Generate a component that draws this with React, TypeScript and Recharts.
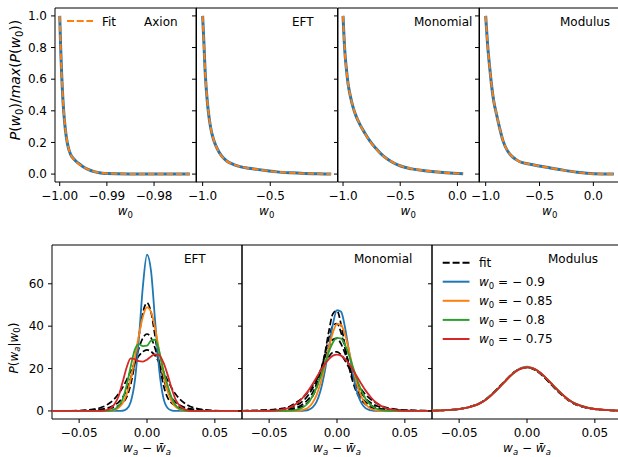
import React from "react";
import { LineChart, Line, XAxis, YAxis, ReferenceArea } from "recharts";

const FONT = "DejaVu Sans";
const BLUE = "#1f77b4";
const ORANGE = "#ff7f0e";
const GREEN = "#2ca02c";
const RED = "#d62728";

// ---- top row: P(w0)/max(P(w0)) ----
const axionW0 = [-1.0, -0.9998, -0.9996, -0.9993, -0.999, -0.9986, -0.9982, -0.9977, -0.997, -0.9962, -0.9952, -0.994, -0.9925, -0.991, -0.99, -0.985, -0.98, -0.9724];
const axionP = [1.0, 0.8, 0.64, 0.46, 0.34, 0.235, 0.17, 0.125, 0.095, 0.072, 0.05, 0.03, 0.014, 0.006, 0.003, 0.0008, 0.0002, 0];
const axionFit = [1.0, 0.79, 0.635, 0.465, 0.345, 0.24, 0.172, 0.124, 0.093, 0.07, 0.049, 0.03, 0.015, 0.007, 0.004, 0.001, 0.0003, 0];

const eftW0 = [-1.0, -0.99, -0.983, -0.975, -0.966, -0.955, -0.941, -0.92, -0.896, -0.86, -0.822, -0.77, -0.723, -0.66, -0.6, -0.52, -0.45, -0.35, -0.25, -0.15, -0.05];
const eftP = [1.0, 0.82, 0.677, 0.56, 0.465, 0.375, 0.295, 0.22, 0.168, 0.115, 0.083, 0.06, 0.047, 0.037, 0.03, 0.021, 0.014, 0.008, 0.004, 0.002, 0.0];
const eftFitTop = [1.0, 0.81, 0.675, 0.562, 0.468, 0.378, 0.297, 0.221, 0.167, 0.114, 0.082, 0.06, 0.047, 0.037, 0.03, 0.021, 0.014, 0.008, 0.004, 0.002, 0.0];

const monoW0 = [-1.0, -0.985, -0.97, -0.956, -0.935, -0.912, -0.885, -0.854, -0.81, -0.766, -0.71, -0.649, -0.58, -0.497, -0.4, -0.3, -0.2, -0.1, 0.0, 0.05];
const monoP = [1.0, 0.783, 0.66, 0.571, 0.49, 0.422, 0.365, 0.316, 0.26, 0.21, 0.16, 0.115, 0.08, 0.051, 0.033, 0.022, 0.015, 0.009, 0.004, 0.002];
const monoFitTop = [1.0, 0.78, 0.658, 0.572, 0.492, 0.424, 0.366, 0.316, 0.259, 0.208, 0.158, 0.114, 0.08, 0.052, 0.034, 0.023, 0.015, 0.009, 0.004, 0.002];

const modW0 = [-1.0, -0.978, -0.962, -0.947, -0.925, -0.9, -0.87, -0.839, -0.8, -0.76, -0.72, -0.683, -0.6, -0.503, -0.4, -0.28, -0.15, 0.0, 0.1, 0.19];
const modP = [1.0, 0.783, 0.67, 0.571, 0.46, 0.38, 0.29, 0.21, 0.15, 0.115, 0.093, 0.078, 0.064, 0.051, 0.039, 0.025, 0.012, 0.002, 0.0005, 0.0];
const modFitTop = [1.0, 0.78, 0.668, 0.572, 0.462, 0.381, 0.29, 0.211, 0.151, 0.116, 0.093, 0.078, 0.064, 0.051, 0.039, 0.025, 0.012, 0.002, 0.0005, 0.0];

// ---- bottom row: P(wa|w0) vs wa - mean ----
const waGrid = [-0.07, -0.06, -0.05, -0.045, -0.04, -0.035, -0.03, -0.027, -0.024, -0.021, -0.018, -0.015, -0.012, -0.009, -0.006, -0.003, 0, 0.003, 0.006, 0.009, 0.012, 0.015, 0.018, 0.021, 0.024, 0.027, 0.03, 0.035, 0.04, 0.045, 0.05, 0.06, 0.07];

const eftBlue = [0, 0, 0, 0, 0, 0, 0, 0, 0, 0, 0.1, 0.9, 4.2, 13.9, 33.9, 59.0, 73.7, 65.9, 42.3, 19.4, 6.4, 1.5, 0.25, 0, 0, 0, 0, 0, 0, 0, 0, 0, 0];
const eftOrange = [0, 0, 0, 0, 0, 0, 0.04, 0.15, 0.5, 1.5, 3.6, 7.9, 14.9, 24.7, 35.6, 44.6, 48.9, 46.7, 38.9, 28.2, 17.8, 9.8, 4.8, 2.0, 0.7, 0.2, 0.06, 0, 0, 0, 0, 0, 0];
const eftGreen = [0, 0, 0, 0, 0, 0, 0, 0.15, 0.8, 2.2, 5.5, 12, 21, 28.8, 31.5, 30.6, 30.8, 33.2, 33.6, 28.2, 19.5, 12.5, 6.5, 2.8, 1.0, 0.3, 0, 0, 0, 0, 0, 0, 0];
const eftRed = [0, 0, 0, 0, 0, 0, 0.4, 1.2, 3.2, 6.8, 13.5, 20.5, 24.8, 24.4, 23.5, 23.3, 24.2, 25.7, 26.7, 26.3, 23, 17.5, 11, 5.5, 2.5, 1.0, 0.3, 0, 0, 0, 0, 0, 0];
const eftFitA = [0, 0, 0.04, 0.1, 0.22, 0.45, 0.8, 1.2, 1.7, 2.5, 3.8, 6.5, 12.5, 22.5, 35, 46.5, 51, 46.5, 35, 22.5, 12.5, 6.5, 3.8, 2.5, 1.7, 1.2, 0.8, 0.45, 0.22, 0.1, 0.04, 0, 0];
const eftFitB = [0, 0.01, 0.08, 0.17, 0.35, 0.7, 1.3, 1.9, 2.8, 4.1, 6.3, 10, 15.5, 22.5, 29.5, 34.5, 36.3, 34.5, 29.5, 22.5, 15.5, 10, 6.3, 4.1, 2.8, 1.9, 1.3, 0.7, 0.35, 0.17, 0.08, 0.01, 0];
const eftFitC = [0, 0.03, 0.15, 0.35, 0.7, 1.4, 2.7, 4.0, 5.7, 8.0, 11.0, 14.7, 18.8, 22.7, 26.0, 28.0, 28.8, 28.0, 26.0, 22.7, 18.8, 14.7, 11.0, 8.0, 5.7, 4.0, 2.7, 1.4, 0.7, 0.35, 0.15, 0.03, 0];

const monoBlue = [0, 0, 0, 0, 0, 0, 0, 0.03, 0.15, 0.5, 1.7, 4.4, 9.9, 18.6, 30.0, 41.0, 47.6, 46.8, 39.1, 27.7, 16.6, 8.5, 3.7, 1.3, 0.4, 0.1, 0, 0, 0, 0, 0, 0, 0];
const monoOrange = [0, 0, 0, 0, 0, 0, 0.07, 0.25, 0.7, 1.7, 3.9, 7.6, 13.5, 21.2, 29.7, 37.0, 41.1, 40.6, 35.8, 28.0, 19.5, 12.1, 6.7, 3.3, 1.45, 0.57, 0.2, 0.03, 0, 0, 0, 0, 0];
const monoGreen = [0, 0, 0, 0, 0.02, 0.11, 0.49, 1.07, 2.15, 4.0, 7.0, 11.1, 16.4, 22.2, 27.9, 32.3, 34.5, 34.1, 31.1, 26.1, 20.2, 14.5, 9.6, 5.85, 3.3, 1.7, 0.8, 0.2, 0.04, 0, 0, 0, 0];
const monoRed = [0, 0, 0.09, 0.26, 0.7, 1.6, 3.4, 5.0, 7.2, 9.7, 12.7, 15.9, 19.1, 22.1, 24.5, 26.1, 26.6, 26.1, 24.5, 22.1, 19.1, 15.9, 12.7, 9.7, 7.2, 5.0, 3.4, 1.6, 0.7, 0.26, 0.09, 0, 0];
const monoFitA = [0.03, 0.05, 0.13, 0.2, 0.35, 0.62, 1.17, 1.77, 2.72, 4.28, 6.84, 11.1, 17.6, 26.8, 37.6, 45.9, 47.3, 40.8, 30.4, 20.4, 13.0, 8.06, 5.0, 3.17, 2.03, 1.34, 0.9, 0.49, 0.28, 0.17, 0.1, 0.05, 0.02];
const monoFitB = [0.04, 0.1, 0.22, 0.32, 0.55, 0.98, 1.7, 2.5, 3.8, 5.6, 8.5, 12.9, 18.9, 26.6, 34.4, 40.3, 41.2, 36.9, 29.3, 21.4, 14.7, 9.8, 6.5, 4.3, 2.9, 1.95, 1.33, 0.76, 0.44, 0.27, 0.18, 0.07, 0.04];
const monoFitC = [0.09, 0.18, 0.38, 0.6, 0.98, 1.57, 2.7, 3.75, 5.3, 7.6, 10.7, 14.6, 19.5, 25.0, 30.3, 33.7, 34.2, 31.6, 27.0, 21.3, 16.1, 11.8, 8.4, 5.95, 4.2, 3.0, 2.2, 1.3, 0.8, 0.5, 0.33, 0.16, 0.08];
const monoFitD = [0.08, 0.18, 0.45, 0.75, 1.2, 2.1, 4.1, 5.3, 7.0, 9.2, 12.0, 15.3, 18.8, 22.4, 25.6, 27.6, 27.9, 26.5, 23.7, 20.2, 16.4, 13.1, 10.1, 7.7, 5.9, 4.5, 3.4, 1.8, 1.1, 0.65, 0.4, 0.15, 0.06];

const modBlue = [0.12, 0.35, 0.9, 1.45, 2.3, 3.5, 5.5, 7.1, 8.9, 10.8, 12.8, 14.8, 16.8, 18.45, 19.75, 20.55, 20.85, 20.5, 19.7, 18.4, 16.8, 14.85, 12.8, 10.8, 8.9, 7.1, 5.5, 3.5, 2.3, 1.45, 0.9, 0.35, 0.12];
const modOrange = [0.12, 0.35, 0.9, 1.45, 2.3, 3.5, 5.5, 7.1, 8.9, 10.8, 12.8, 14.8, 16.75, 18.4, 19.65, 20.4, 20.7, 20.4, 19.6, 18.35, 16.75, 14.85, 12.85, 10.85, 8.95, 7.15, 5.55, 3.55, 2.35, 1.5, 0.92, 0.36, 0.12];
const modGreen = [0.12, 0.34, 0.88, 1.42, 2.25, 3.45, 5.45, 7.05, 8.85, 10.75, 12.75, 14.75, 16.7, 18.3, 19.55, 20.3, 20.6, 20.35, 19.6, 18.4, 16.8, 14.95, 13.0, 11.0, 9.1, 7.3, 5.7, 3.7, 2.5, 1.6, 1.0, 0.4, 0.14];
const modRed = [0.12, 0.35, 0.88, 1.4, 2.25, 3.45, 5.4, 7.0, 8.8, 10.7, 12.7, 14.7, 16.6, 18.2, 19.5, 20.25, 20.55, 20.35, 19.65, 18.4, 16.8, 14.9, 12.9, 10.9, 9.0, 7.2, 5.6, 3.55, 2.35, 1.5, 0.92, 0.36, 0.12];
const modFitA = [0.1, 0.32, 0.88, 1.45, 2.35, 3.6, 5.65, 7.3, 9.1, 11.0, 13.0, 15.0, 16.9, 18.5, 19.7, 20.35, 20.55, 20.15, 19.3, 18.0, 16.3, 14.4, 12.4, 10.4, 8.5, 6.8, 5.25, 3.3, 2.15, 1.35, 0.85, 0.32, 0.1];
const modFitB = [0.1, 0.33, 0.9, 1.47, 2.38, 3.62, 5.7, 7.35, 9.15, 11.05, 13.05, 15.05, 16.95, 18.55, 19.75, 20.4, 20.6, 20.2, 19.35, 18.05, 16.35, 14.45, 12.45, 10.45, 8.55, 6.85, 5.3, 3.32, 2.17, 1.37, 0.86, 0.33, 0.1];

const topYTicks = [0, 0.2, 0.4, 0.6, 0.8, 1.0];
const botXTicks = [-0.05, 0, 0.05];
const botYTicks = [0, 20, 40, 60];
const legendW0 = ["−0.9", "−0.85", "−0.8", "−0.75"];

const rows = (xs: number[], cols: Record<string, number[]>) =>
  xs.map((x, i) => {
    const r: Record<string, number> = { x };
    for (const k in cols) r[k] = cols[k][i];
    return r;
  });

const fmt = (d: number) => (v: number) => v.toFixed(d).replace("-", "−");
const blank = () => "";

type S = { key: string; color: string; width: number; dash?: string };

const PAD_L = 50;
const PAD_T = 4;
const PAD_R = 4;
const PAD_B = 28;
const DASH = "6.5 2.8";

function Panel(props: {
  left: number;
  top: number;
  width: number;
  height: number;
  data: Record<string, number>[];
  xDomain: [number, number];
  yDomain: [number, number];
  xTicks: number[];
  yTicks: number[];
  xFmt: (v: number) => string;
  yFmt: (v: number) => string;
  series: S[];
}) {
  const { left, top, width, height, data, xDomain, yDomain, xTicks, yTicks, xFmt, yFmt, series } = props;
  const tick = { fill: "#000", fontSize: 12, fontFamily: FONT };
  return (
    <div style={{ position: "absolute", left: left - PAD_L, top: top - PAD_T }}>
      <LineChart
        width={width + PAD_L + PAD_R}
        height={height + PAD_T + PAD_B}
        data={data}
        margin={{ top: PAD_T, right: PAD_R, bottom: 0, left: 0 }}
      >
        <XAxis
          type="number"
          dataKey="x"
          domain={xDomain}
          ticks={xTicks}
          allowDataOverflow
          interval={0}
          height={PAD_B}
          axisLine={false}
          stroke="#000"
          tickLine={{ stroke: "#000" }}
          tickSize={4}
          tickMargin={5}
          tick={tick}
          tickFormatter={xFmt}
        />
        <YAxis
          type="number"
          domain={yDomain}
          ticks={yTicks}
          allowDataOverflow
          interval={0}
          width={PAD_L}
          axisLine={false}
          stroke="#000"
          tickLine={{ stroke: "#000" }}
          tickSize={4}
          tickMargin={4}
          tick={tick}
          tickFormatter={yFmt}
        />
        <ReferenceArea
          x1={xDomain[0]}
          x2={xDomain[1]}
          y1={yDomain[0]}
          y2={yDomain[1]}
          fill="none"
          fillOpacity={0}
          stroke="#000"
          strokeWidth={1}
        />
        {series.map((s) => (
          <Line
            key={s.key}
            type="monotone"
            dataKey={s.key}
            stroke={s.color}
            strokeWidth={s.width}
            strokeDasharray={s.dash}
            dot={false}
            activeDot={false}
            isAnimationActive={false}
          />
        ))}
      </LineChart>
    </div>
  );
}

const topSeries: S[] = [
  { key: "p", color: BLUE, width: 3 },
  { key: "f", color: ORANGE, width: 2, dash: DASH },
];

const botSeries = (fits: string[]): S[] => [
  ...fits.map((k) => ({ key: k, color: "#000", width: 1.7, dash: DASH })),
  { key: "b", color: BLUE, width: 1.8 },
  { key: "o", color: ORANGE, width: 1.8 },
  { key: "g", color: GREEN, width: 1.8 },
  { key: "r", color: RED, width: 1.8 },
];

const TOP_Y = 7.5;
const TOP_H = 174;
const TOP_W = 141.5;
const BOT_Y = 245;
const BOT_H = 174;
const BOT_W = 190;

const Sub = ({ t, size, shift, italic }: { t: string; size: number; shift: number; italic?: boolean }) => (
  <tspan fontSize={size} dy={shift} fontStyle={italic ? "italic" : "normal"}>
    {t}
  </tspan>
);

export default function App() {
  return (
    <div
      style={{
        position: "absolute",
        left: 0,
        top: 0,
        width: 618,
        height: 457,
        overflow: "hidden",
        background: "#fff",
        fontFamily: FONT,
      }}
    >
      <Panel
        left={54.5}
        top={TOP_Y}
        width={TOP_W}
        height={TOP_H}
        data={rows(axionW0, { p: axionP, f: axionFit })}
        xDomain={[-1.001, -0.971]}
        yDomain={[-0.05, 1.05]}
        xTicks={[-1.0, -0.99, -0.98]}
        yTicks={topYTicks}
        xFmt={fmt(2)}
        yFmt={fmt(1)}
        series={topSeries}
      />
      <Panel
        left={196}
        top={TOP_Y}
        width={TOP_W}
        height={TOP_H}
        data={rows(eftW0, { p: eftP, f: eftFitTop })}
        xDomain={[-1.049, -0.003]}
        yDomain={[-0.05, 1.05]}
        xTicks={[-1.0, -0.5]}
        yTicks={topYTicks}
        xFmt={fmt(1)}
        yFmt={blank}
        series={topSeries}
      />
      <Panel
        left={337.5}
        top={TOP_Y}
        width={TOP_W}
        height={TOP_H}
        data={rows(monoW0, { p: monoP, f: monoFitTop })}
        xDomain={[-1.044, 0.193]}
        yDomain={[-0.05, 1.05]}
        xTicks={[-1.0, -0.5, 0.0]}
        yTicks={topYTicks}
        xFmt={fmt(1)}
        yFmt={blank}
        series={topSeries}
      />
      <Panel
        left={479}
        top={TOP_Y}
        width={TOP_W}
        height={TOP_H}
        data={rows(modW0, { p: modP, f: modFitTop })}
        xDomain={[-1.062, 0.252]}
        yDomain={[-0.05, 1.05]}
        xTicks={[-1.0, -0.5, 0.0]}
        yTicks={topYTicks}
        xFmt={fmt(1)}
        yFmt={blank}
        series={topSeries}
      />

      <Panel
        left={52}
        top={BOT_Y}
        width={BOT_W}
        height={BOT_H}
        data={rows(waGrid, { fa: eftFitA, fb: eftFitB, fc: eftFitC, b: eftBlue, o: eftOrange, g: eftGreen, r: eftRed })}
        xDomain={[-0.07, 0.07]}
        yDomain={[-3.8, 78.3]}
        xTicks={botXTicks}
        yTicks={botYTicks}
        xFmt={fmt(2)}
        yFmt={fmt(0)}
        series={botSeries(["fa", "fb", "fc"])}
      />
      <Panel
        left={242}
        top={BOT_Y}
        width={BOT_W}
        height={BOT_H}
        data={rows(waGrid, {
          fa: monoFitA,
          fb: monoFitB,
          fc: monoFitC,
          fd: monoFitD,
          b: monoBlue,
          o: monoOrange,
          g: monoGreen,
          r: monoRed,
        })}
        xDomain={[-0.07, 0.07]}
        yDomain={[-3.8, 78.3]}
        xTicks={botXTicks}
        yTicks={botYTicks}
        xFmt={fmt(2)}
        yFmt={blank}
        series={botSeries(["fa", "fb", "fc", "fd"])}
      />
      <Panel
        left={432}
        top={BOT_Y}
        width={BOT_W}
        height={BOT_H}
        data={rows(waGrid, { fa: modFitA, fb: modFitB, b: modBlue, o: modOrange, g: modGreen, r: modRed })}
        xDomain={[-0.07, 0.07]}
        yDomain={[-3.8, 78.3]}
        xTicks={botXTicks}
        yTicks={botYTicks}
        xFmt={fmt(2)}
        yFmt={blank}
        series={botSeries(["fa", "fb"])}
      />

      <svg
        width={618}
        height={457}
        style={{ position: "absolute", left: 0, top: 0, pointerEvents: "none" }}
        fontFamily={FONT}
        fontSize={12}
        fill="#000"
      >
        {/* y labels */}
        <text transform="translate(19.5,80) rotate(-90)" textAnchor="middle" fontSize={14}>
          <tspan fontStyle="italic">P</tspan>
          <tspan>(</tspan>
          <tspan fontStyle="italic">w</tspan>
          <Sub t="0" size={10} shift={3} />
          <tspan dy={-3}>)/</tspan>
          <tspan fontStyle="italic">max</tspan>
          <tspan>(</tspan>
          <tspan fontStyle="italic">P</tspan>
          <tspan>(</tspan>
          <tspan fontStyle="italic">w</tspan>
          <Sub t="0" size={10} shift={3} />
          <tspan dy={-3}>))</tspan>
        </text>
        <text transform="translate(17.5,348) rotate(-90)" textAnchor="middle" fontSize={12}>
          <tspan fontStyle="italic">P</tspan>
          <tspan>(</tspan>
          <tspan fontStyle="italic">w</tspan>
          <Sub t="a" size={8.5} shift={2.5} italic />
          <tspan dy={-2.5}>|</tspan>
          <tspan fontStyle="italic">w</tspan>
          <Sub t="0" size={8.5} shift={2.5} />
          <tspan dy={-2.5}>)</tspan>
        </text>

        {/* x labels */}
        {[125.3, 266.7, 408.2, 549.7].map((cx) => (
          <text key={cx} x={cx} y={215} textAnchor="middle">
            <tspan fontStyle="italic">w</tspan>
            <Sub t="0" size={8.5} shift={2.5} />
          </text>
        ))}
        {[147, 337, 527].map((cx) => (
          <text key={cx} x={cx} y={452} textAnchor="middle">
            <tspan fontStyle="italic">w</tspan>
            <Sub t="a" size={8.5} shift={2.5} italic />
            <tspan dy={-2.5}>{" − "}</tspan>
            <tspan fontStyle="italic">{"w\u0304"}</tspan>
            <Sub t="a" size={8.5} shift={2.5} italic />
          </text>
        ))}

        {/* panel titles */}
        <text x={144} y={26}>Axion</text>
        <text x={292} y={26}>EFT</text>
        <text x={414} y={26}>Monomial</text>
        <text x={560} y={26}>Modulus</text>
        <text x={184} y={263}>EFT</text>
        <text x={354} y={263}>Monomial</text>
        <text x={548} y={263}>Modulus</text>

        {/* legend top */}
        <line x1={67} x2={93} y1={21} y2={21} stroke={ORANGE} strokeWidth={2} strokeDasharray="7 2.7" />
        <text x={102} y={26}>Fit</text>

        {/* legend bottom */}
        <line x1={442.7} x2={469.5} y1={262.7} y2={262.7} stroke="#000" strokeWidth={2} strokeDasharray="7 2.9" />
        <text x={479} y={267}>fit</text>
        {[BLUE, ORANGE, GREEN, RED].map((c, i) => {
          const y = 281.7 + i * 19.1;
          return (
            <g key={c}>
              <line x1={442.7} x2={469.5} y1={y} y2={y} stroke={c} strokeWidth={2} />
              <text x={479} y={y + 4.4}>
                <tspan fontStyle="italic">w</tspan>
                <Sub t="0" size={8.5} shift={2.5} />
                <tspan dy={-2.5}>{" = − " + legendW0[i].slice(1)}</tspan>
              </text>
            </g>
          );
        })}
      </svg>
    </div>
  );
}
